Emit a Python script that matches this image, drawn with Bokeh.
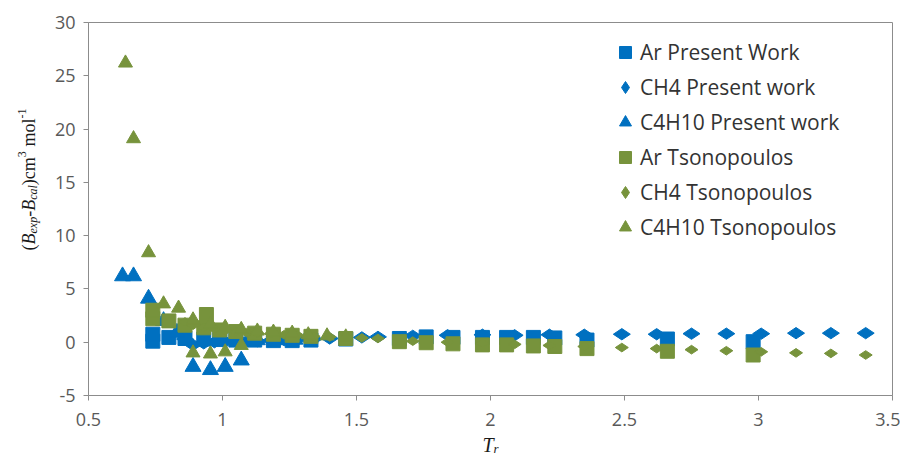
import math
from bokeh.plotting import figure
from bokeh.layouts import row, column
from bokeh.models import Label, Legend, LegendItem, FixedTicker, Range1d
from bokeh.embed import file_html
from bokeh.resources import INLINE

# ---------------- data ----------------
x_ticks = [0.5, 1.0, 1.5, 2.0, 2.5, 3.0, 3.5]
x_tick_labels = ["0.5", "1", "1.5", "2", "2.5", "3", "3.5"]
y_ticks = [-5, 0, 5, 10, 15, 20, 25, 30]
y_tick_labels = ["-5", "0", "5", "10", "15", "20", "25", "30"]

series_names = ["Ar Present Work", "CH4 Present work", "C4H10 Present work",
                "Ar Tsonopoulos", "CH4 Tsonopoulos", "C4H10 Tsonopoulos"]

ar_pw_x = [0.74, 0.74, 0.80, 0.86, 0.93, 0.99, 1.05, 1.12, 1.19, 1.26, 1.33, 1.46,
           1.66, 1.76, 1.86, 1.97, 2.06, 2.16, 2.24, 2.36, 2.66, 2.98]
ar_pw_y = [0.1, 0.75, 0.45, 0.35, 0.3, 0.25, 0.2, 0.2, 0.15, 0.15, 0.2, 0.3,
           0.35, 0.5, 0.45, 0.45, 0.45, 0.45, 0.4, 0.2, 0.3, 0.05]

ch4_pw_x = [0.86, 0.89, 0.93, 0.97, 1.01, 1.05, 1.09, 1.13, 1.18, 1.23, 1.28, 1.34, 1.40,
            1.52, 1.58, 1.71, 1.84, 1.97, 2.09, 2.22, 2.35, 2.49, 2.62, 2.75, 2.88,
            3.01, 3.14, 3.27, 3.40]
ch4_pw_y = [0.3, -0.25, -0.1, 0.0, 0.05, 0.05, 0.1, 0.1, 0.15, 0.2, 0.25, 0.3, 0.35,
            0.45, 0.5, 0.6, 0.65, 0.7, 0.65, 0.7, 0.7, 0.75, 0.75, 0.8, 0.8,
            0.8, 0.85, 0.85, 0.85]

c4_pw_x = [0.627, 0.668, 0.724, 0.78, 0.83, 0.89, 0.955, 1.01, 1.07, 1.13, 1.20, 1.27]
c4_pw_y = [6.2, 6.2, 4.1, 2.0, 0.9, -2.3, -2.6, -2.3, -1.7, 0.2, 0.2, 0.25]

ar_ts_x = [0.74, 0.74, 0.80, 0.86, 0.93, 0.94, 0.99, 1.05, 1.12, 1.19, 1.26, 1.33, 1.46,
           1.66, 1.76, 1.86, 1.97, 2.06, 2.16, 2.24, 2.36, 2.66, 2.98]
ar_ts_y = [2.2, 3.0, 2.0, 1.6, 1.35, 2.6, 1.15, 1.0, 0.85, 0.75, 0.65, 0.55, 0.35,
           0.05, -0.05, -0.15, -0.25, -0.25, -0.35, -0.4, -0.6, -0.85, -1.2]

ch4_ts_x = [0.86, 0.89, 0.93, 0.97, 1.01, 1.05, 1.09, 1.13, 1.18, 1.23, 1.28, 1.34, 1.40,
            1.52, 1.58, 1.71, 1.84, 1.97, 2.09, 2.22, 2.35, 2.49, 2.62, 2.75, 2.88,
            3.01, 3.14, 3.27, 3.40]
ch4_ts_y = [1.9, 1.6, 1.4, 1.25, 1.1, 1.0, 0.9, 0.85, 0.8, 0.7, 0.65, 0.55, 0.5,
            0.4, 0.35, 0.1, 0.0, -0.1, -0.2, -0.3, -0.4, -0.5, -0.6, -0.7, -0.8,
            -0.9, -1.0, -1.05, -1.2]

c4_ts_x = [0.638, 0.668, 0.724, 0.78, 0.836, 0.89, 0.955, 1.01, 1.07, 0.89, 0.955, 1.01,
           1.07, 1.13, 1.19, 1.26, 1.32, 1.39, 1.46]
c4_ts_y = [26.2, 19.1, 8.4, 3.6, 3.2, -1.0, -1.1, -0.9, -0.3, 2.1, 1.7, 1.4,
           1.2, 1.05, 0.95, 0.85, 0.7, 0.6, 0.5]

# ---------------- style ----------------
BLUE = "#0070C0"
GREEN = "#77933C"
AXIS_GRAY = "#8C8C8C"
TICK_FONT = "Open Sans"
SERIF = "Times New Roman"
TXT = "#1a1a1a"

YW = 50          # width of the strip holding the y title
PW, PH = 850, 435
XH = 22          # height of the strip holding the x title

p = figure(width=PW, height=PH, output_backend="svg", toolbar_location=None,
           x_range=Range1d(0.5, 3.5), y_range=Range1d(-5, 30),
           min_border_left=38, min_border_right=8, min_border_top=22,
           min_border_bottom=40)
p.xgrid.visible = False
p.ygrid.visible = False
p.outline_line_color = AXIS_GRAY
p.background_fill_color = "white"
p.border_fill_color = "white"

for ax, ticks, labels in ((p.xaxis[0], x_ticks, x_tick_labels),
                          (p.yaxis[0], y_ticks, y_tick_labels)):
    ax.ticker = FixedTicker(ticks=ticks)
    ax.major_label_overrides = {t: l for t, l in zip(ticks, labels)}
    ax.axis_line_color = AXIS_GRAY
    ax.major_tick_line_color = AXIS_GRAY
    ax.minor_tick_line_color = None
    ax.major_tick_out = 5
    ax.major_tick_in = 0
    ax.major_label_text_font = TICK_FONT
    ax.major_label_text_font_size = "18px"
    ax.major_label_text_color = "#595959"
p.xaxis.major_label_standoff = 12
p.yaxis.major_label_standoff = 8

r_ar_pw = p.scatter(ar_pw_x, ar_pw_y, marker="square", size=14, color=BLUE)
r_ch4_pw = p.scatter(ch4_pw_x, ch4_pw_y, marker="diamond", angle=math.pi / 2,
                     size=17, color=BLUE)
r_c4_pw = p.scatter(c4_pw_x, c4_pw_y, marker="triangle", size=16, color=BLUE)
r_ar_ts = p.scatter(ar_ts_x, ar_ts_y, marker="square", size=14, color=GREEN)
r_ch4_ts = p.scatter(ch4_ts_x, ch4_ts_y, marker="diamond", angle=math.pi / 2,
                     size=13, color=GREEN)
r_c4_ts = p.scatter(c4_ts_x, c4_ts_y, marker="triangle", size=14, color=GREEN)

renderers = [r_ar_pw, r_ch4_pw, r_c4_pw, r_ar_ts, r_ch4_ts, r_c4_ts]
legend = Legend(items=[LegendItem(label=n, renderers=[r]) for n, r in zip(series_names, renderers)],
                location=(522, 153), glyph_width=30, glyph_height=30, spacing=5,
                padding=0, margin=0, border_line_color=None, background_fill_alpha=0,
                label_text_font=TICK_FONT, label_text_font_size="21px",
                label_standoff=0, label_text_color="#333333")
p.add_layout(legend)


def strip(w, h):
    f = figure(width=w, height=h, output_backend="svg", toolbar_location=None,
               x_range=Range1d(0, 1), y_range=Range1d(0, 1), min_border=0)
    f.axis.visible = False
    f.grid.visible = False
    f.outline_line_color = None
    f.background_fill_color = "white"
    f.border_fill_color = "white"
    return f


FS, SS = 18, 12
# y title: (text, size, style, baseline shift, advance in em after the piece)
y_pieces = [("(", FS, "normal", 0, 0.333), ("B", FS, "italic", 0, 0.611),
            ("exp", SS, "italic", 4, 1.388), ("-", FS, "normal", 0, 0.333),
            ("B", FS, "italic", 0, 0.611), ("cal", SS, "italic", 4, 1.222),
            (")cm", FS, "normal", 0, 1.555), ("3", SS, "normal", -7, 0.5 + 0.385),
            ("mol", FS, "normal", 0, 1.556), ("-1", SS, "normal", -7, 0.833)]
yfig = strip(YW, PH)
pos = 145.0
for txt, size, style, shift, em in y_pieces:
    yfig.add_layout(Label(x=28 + shift, y=pos, x_units="screen", y_units="screen",
                          angle=math.pi / 2, text=txt, text_font=SERIF,
                          text_font_style=style, text_font_size=f"{size}px",
                          text_baseline="alphabetic", text_align="left",
                          text_color=TXT))
    pos += em * size

x_pieces = [("T", 20, "italic", 0, 0.556), ("r", 13, "italic", -4, 0.389)]
xfig = strip(YW + PW, XH)
pos = 482.0
for txt, size, style, shift, em in x_pieces:
    xfig.add_layout(Label(x=pos, y=13 + shift, x_units="screen", y_units="screen",
                          text=txt, text_font=SERIF, text_font_style=style,
                          text_font_size=f"{size}px", text_baseline="alphabetic",
                          text_align="left", text_color=TXT))
    pos += em * size

layout = column(row(yfig, p, spacing=0), xfig, spacing=0)
open("out.html", "w").write(file_html(layout, INLINE))
